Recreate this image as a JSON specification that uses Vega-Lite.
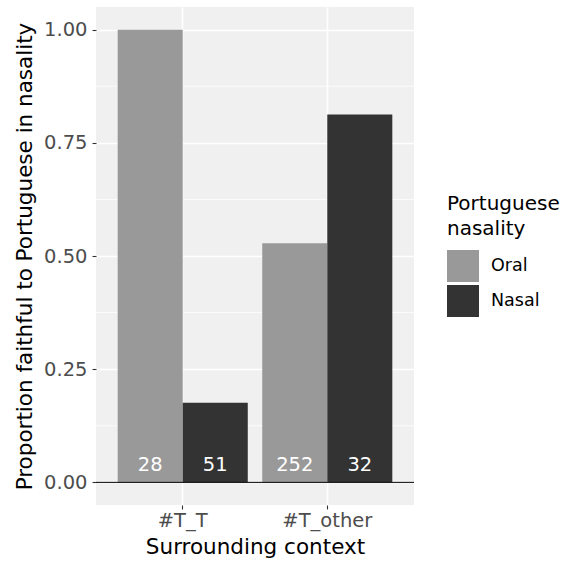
{
  "$schema": "https://vega.github.io/schema/vega-lite/v6.json",
  "autosize": "none",
  "width": 318,
  "height": 498,
  "padding": {"left": 96, "top": 7, "right": 149, "bottom": 64},
  "background": "white",
  "datasets": {
    "bars": [
      {"context": "#T_T", "nasality": "Oral", "prop": 1.0, "n": 28},
      {"context": "#T_T", "nasality": "Nasal", "prop": 0.176, "n": 51},
      {"context": "#T_other", "nasality": "Oral", "prop": 0.528, "n": 252},
      {"context": "#T_other", "nasality": "Nasal", "prop": 0.8125, "n": 32}
    ],
    "minor": [{"v": 0.125}, {"v": 0.375}, {"v": 0.625}, {"v": 0.875}]
  },
  "layer": [
    {
      "data": {"name": "minor"},
      "mark": {"type": "rule", "color": "white", "strokeWidth": 0.8},
      "encoding": {
        "y": {"field": "v", "type": "quantitative", "scale": {"domain": [-0.05, 1.05], "nice": false, "zero": false}}
      }
    },
    {
      "data": {"name": "bars"},
      "mark": {"type": "bar"},
      "encoding": {
        "x": {
          "field": "context", "type": "nominal", "sort": ["#T_T", "#T_other"],
          "scale": {"paddingInner": 0.1, "paddingOuter": 0.15},
          "axis": {
            "title": "Surrounding context", "labelAngle": 0, "grid": true, "bandPosition": 0.5,
            "gridColor": "white", "gridWidth": 1.6, "domain": false,
            "tickColor": "#333333", "tickSize": 4, "tickWidth": 1.1,
            "labelColor": "#4D4D4D", "labelFontSize": 19.5, "labelPadding": 2,
            "titleFontSize": 21.5, "titleColor": "black", "titleFontWeight": "normal", "titlePadding": 7
          }
        },
        "xOffset": {"field": "nasality", "type": "nominal", "sort": ["Oral", "Nasal"], "scale": {"paddingInner": 0, "paddingOuter": 0}},
        "y": {
          "field": "prop", "type": "quantitative",
          "scale": {"domain": [-0.05, 1.05], "nice": false, "zero": false},
          "axis": {
            "title": "Proportion faithful to Portuguese in nasality",
            "values": [0, 0.25, 0.5, 0.75, 1], "format": ".2f",
            "grid": true, "gridColor": "white", "gridWidth": 1.6, "domain": false,
            "tickColor": "#333333", "tickSize": 4, "tickWidth": 1.1,
            "labelColor": "#4D4D4D", "labelFontSize": 19.5, "labelPadding": 5,
            "titleFontSize": 21.5, "titleColor": "black", "titleFontWeight": "normal", "titlePadding": 7
          }
        },
        "color": {
          "field": "nasality", "type": "nominal", "sort": ["Oral", "Nasal"],
          "scale": {"domain": ["Oral", "Nasal"], "range": ["#999999", "#333333"]},
          "legend": {
            "title": ["Portuguese", "nasality"],
            "orient": "none", "legendX": 351, "legendY": 187,
            "titleFontSize": 20, "titleFontWeight": "normal", "titleColor": "black", "titleLineHeight": 25,
            "titlePadding": 11,
            "symbolType": "square", "symbolSize": 1024, "symbolStrokeWidth": 0, "symbolOpacity": 1,
            "labelFontSize": 17.5, "labelColor": "black", "labelOffset": 12, "rowPadding": 3
          }
        }
      }
    },
    {
      "data": {"name": "bars"},
      "mark": {"type": "text", "color": "white", "fontSize": 19.5, "baseline": "alphabetic", "dy": -11},
      "encoding": {
        "x": {"field": "context", "type": "nominal", "sort": ["#T_T", "#T_other"]},
        "xOffset": {"field": "nasality", "type": "nominal", "sort": ["Oral", "Nasal"]},
        "y": {"datum": 0},
        "text": {"field": "n", "type": "quantitative"}
      }
    },
    {
      "data": {"values": [{}]},
      "mark": {"type": "rule", "color": "black", "strokeWidth": 1},
      "encoding": {"y": {"datum": 0}}
    }
  ],
  "config": {
    "font": "DejaVu Sans",
    "view": {"fill": "#F0F0F0", "stroke": null}
  }
}
